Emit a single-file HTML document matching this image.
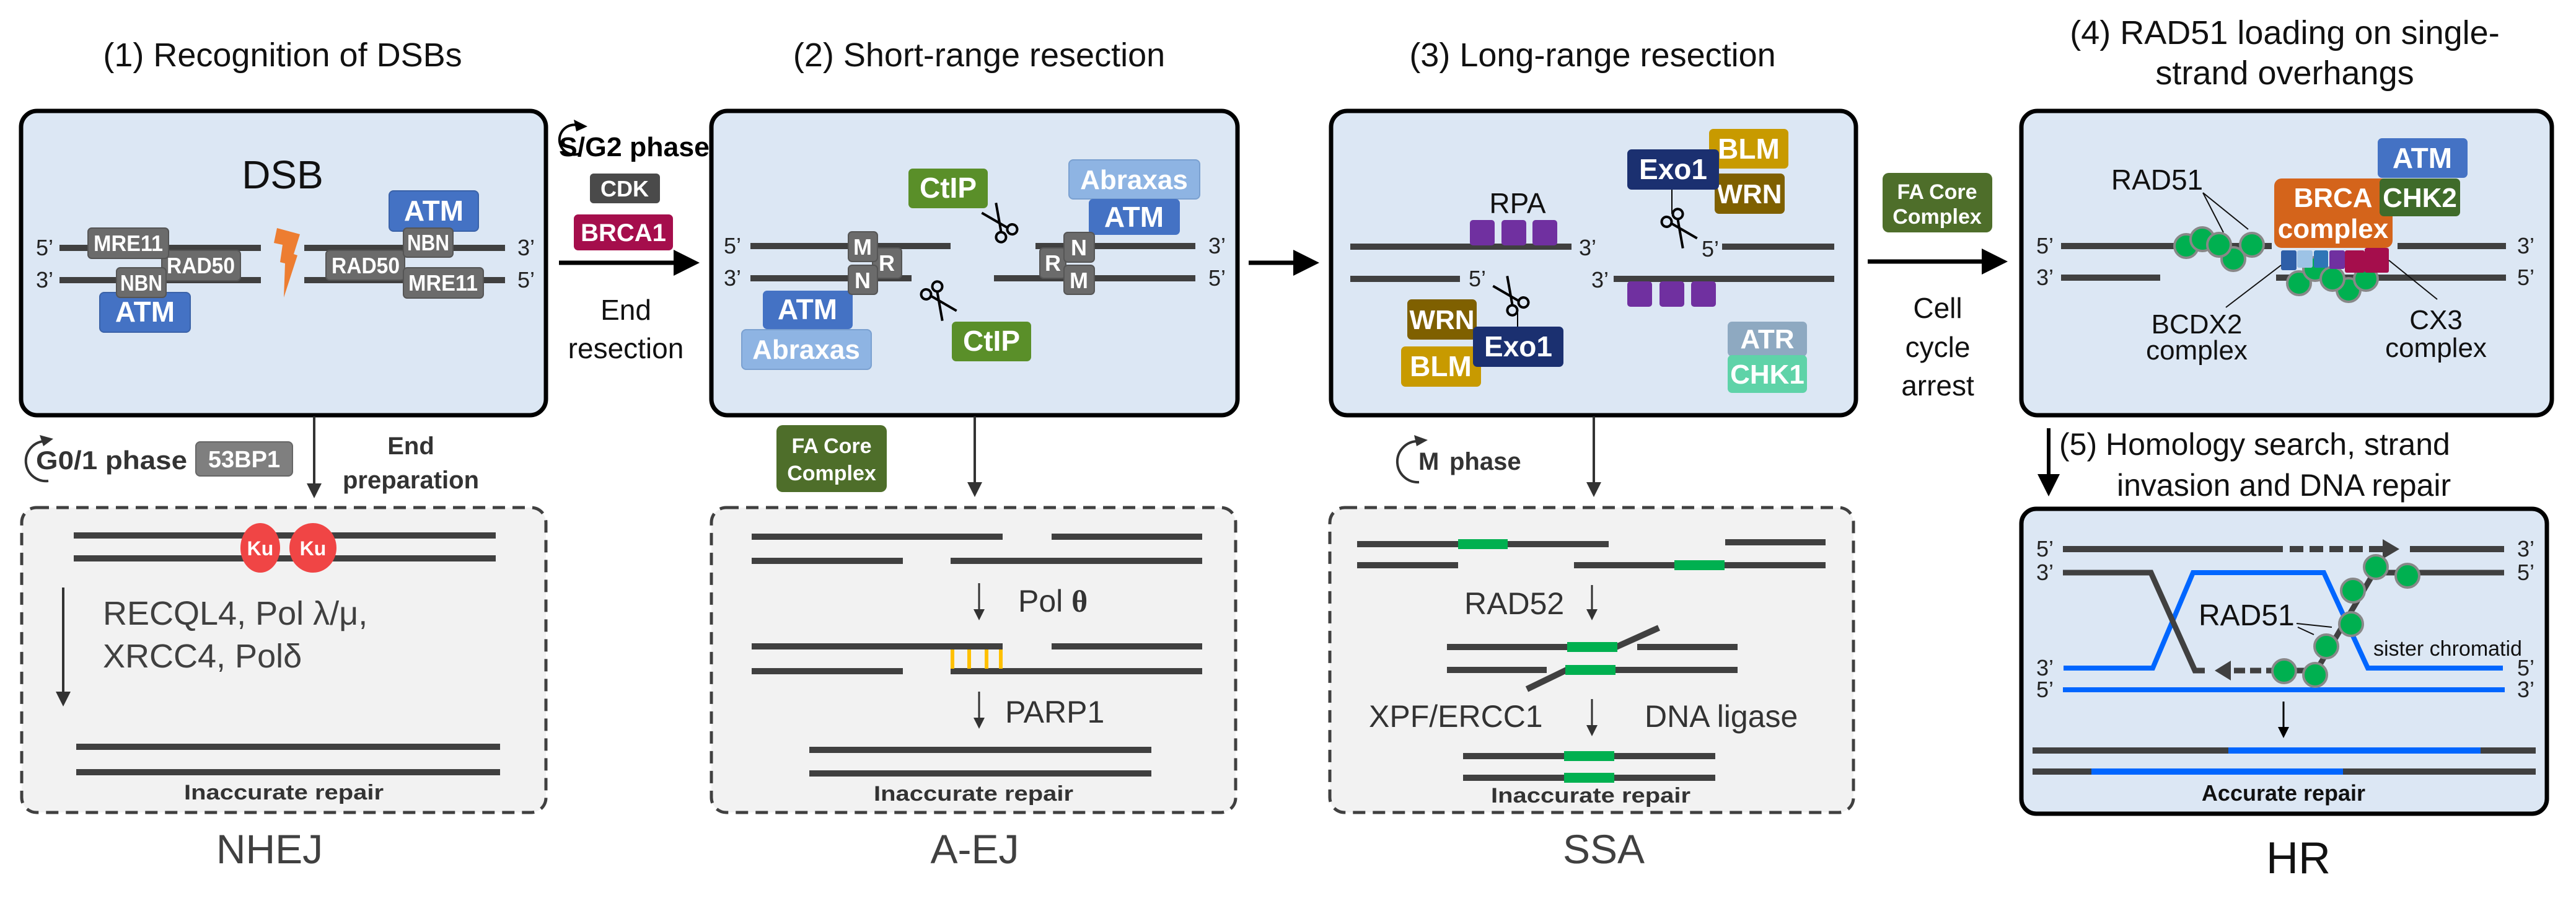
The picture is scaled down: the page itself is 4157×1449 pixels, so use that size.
<!DOCTYPE html>
<html><head><meta charset="utf-8"><style>
html,body{margin:0;padding:0;background:#fff;}
svg{display:block;}
text{font-family:"Liberation Sans",sans-serif;}
.t{font-size:54px;fill:#111;}
.b{font-family:"Liberation Sans Narrow","Liberation Sans",sans-serif;font-weight:bold;fill:#fff;text-anchor:middle;}
.p{font-size:36px;fill:#222;}
.dna{stroke:#404040;stroke-width:10;}
</style></head><body>
<svg width="4157" height="1449" viewBox="0 0 4157 1449" xmlns="http://www.w3.org/2000/svg">
<defs>
<marker id="ah" markerWidth="6" markerHeight="6" refX="5" refY="3" orient="auto" markerUnits="strokeWidth"><path d="M0,0 L6,3 L0,6 z" fill="#000"/></marker>
<marker id="ahg" markerWidth="6" markerHeight="6" refX="5" refY="3" orient="auto" markerUnits="strokeWidth"><path d="M0,0 L6,3 L0,6 z" fill="#333"/></marker>
<g id="sc" fill="none" stroke="#000" stroke-width="4">
<circle cx="-11" cy="20" r="8"/><circle cx="11" cy="20" r="8"/>
<line x1="-6" y1="13" x2="14" y2="-30"/><line x1="6" y1="13" x2="-14" y2="-30"/>
</g>
</defs>

<text class="t" x="456" y="107" text-anchor="middle">(1) Recognition of DSBs</text>
<text class="t" x="1580" y="107" text-anchor="middle">(2) Short-range resection</text>
<text class="t" x="2570" y="107" text-anchor="middle">(3) Long-range resection</text>
<text class="t" x="3687" y="71" text-anchor="middle">(4) RAD51 loading on single-</text>
<text class="t" x="3687" y="136" text-anchor="middle">strand overhangs</text>

<rect x="34" y="179" width="847" height="491" rx="26" fill="#dce7f4" stroke="#000" stroke-width="7"/>
<rect x="1148" y="179" width="849" height="491" rx="26" fill="#dce7f4" stroke="#000" stroke-width="7"/>
<rect x="2148" y="179" width="847" height="491" rx="26" fill="#dce7f4" stroke="#000" stroke-width="7"/>
<rect x="3262" y="179" width="856" height="491" rx="26" fill="#dce7f4" stroke="#000" stroke-width="7"/>

<!-- Panel 1 -->
<text x="456" y="304" font-size="64" text-anchor="middle" fill="#111">DSB</text>
<line class="dna" x1="96" y1="400" x2="421" y2="400"/><line class="dna" x1="96" y1="452" x2="421" y2="452"/>
<line class="dna" x1="491" y1="400" x2="815" y2="400"/><line class="dna" x1="491" y1="452" x2="815" y2="452"/>
<text class="p" x="58" y="412">5’</text><text class="p" x="58" y="464">3’</text>
<text class="p" x="835" y="412">3’</text><text class="p" x="835" y="464">5’</text>
<polygon points="447,368 484,378 474,410 480,412 458,480 460,425 452,423 456,395 442,392" fill="#ed7d31"/>
<rect x="261" y="404" width="127" height="49" rx="6" fill="#6b6b6b" stroke="#555" stroke-width="2"/><text class="b" x="324" y="441" font-size="36" textLength="110" lengthAdjust="spacingAndGlyphs">RAD50</text>
<rect x="142" y="368" width="130" height="49" rx="6" fill="#6b6b6b" stroke="#555" stroke-width="2"/><text class="b" x="207" y="405" font-size="36" textLength="112" lengthAdjust="spacingAndGlyphs">MRE11</text>
<rect x="161" y="472" width="146" height="64" rx="7" fill="#4472c4" stroke="#3a62a8" stroke-width="2"/><text class="b" x="234" y="519" font-size="46">ATM</text>
<rect x="188" y="432" width="80" height="48" rx="6" fill="#6b6b6b" stroke="#555" stroke-width="2"/><text class="b" x="228" y="469" font-size="36" textLength="68" lengthAdjust="spacingAndGlyphs">NBN</text>
<rect x="628" y="308" width="144" height="65" rx="7" fill="#4472c4" stroke="#3a62a8" stroke-width="2"/><text class="b" x="700" y="356" font-size="46">ATM</text>
<rect x="526" y="404" width="127" height="48" rx="6" fill="#6b6b6b" stroke="#555" stroke-width="2"/><text class="b" x="590" y="441" font-size="36" textLength="110" lengthAdjust="spacingAndGlyphs">RAD50</text>
<rect x="651" y="368" width="80" height="47" rx="6" fill="#6b6b6b" stroke="#555" stroke-width="2"/><text class="b" x="691" y="404" font-size="36" textLength="68" lengthAdjust="spacingAndGlyphs">NBN</text>
<rect x="651" y="432" width="129" height="49" rx="6" fill="#6b6b6b" stroke="#555" stroke-width="2"/><text class="b" x="715" y="469" font-size="36" textLength="112" lengthAdjust="spacingAndGlyphs">MRE11</text>

<path d="M935,248 A24,24 0 1 1 932,202" fill="none" stroke="#000" stroke-width="4"/>
<polygon points="926,193 948,204 930,212" fill="#000"/>
<text x="902" y="252" font-size="44" font-weight="bold" fill="#000" textLength="243" lengthAdjust="spacingAndGlyphs">S/G2 phase</text>
<rect x="952" y="280" width="113" height="48" rx="6" fill="#4a4a4a"/><text class="b" x="1008" y="317" font-size="36">CDK</text>
<rect x="926" y="346" width="160" height="58" rx="7" fill="#a50e4c"/><text class="b" x="1006" y="389" font-size="40">BRCA1</text>
<line x1="902" y1="424" x2="1122" y2="424" stroke="#000" stroke-width="7" marker-end="url(#ah)"/>
<text x="1010" y="516" font-size="46" text-anchor="middle" fill="#111">End</text>
<text x="1010" y="578" font-size="46" text-anchor="middle" fill="#111">resection</text>

<!-- Panel 2 -->
<line class="dna" x1="1211" y1="397" x2="1534" y2="397"/><line class="dna" x1="1211" y1="449" x2="1471" y2="449"/>
<line class="dna" x1="1671" y1="397" x2="1929" y2="397"/><line class="dna" x1="1604" y1="449" x2="1929" y2="449"/>
<text class="p" x="1168" y="409">5’</text><text class="p" x="1168" y="461">3’</text>
<text class="p" x="1950" y="409">3’</text><text class="p" x="1950" y="461">5’</text>
<rect x="1408" y="400" width="47" height="49" rx="6" fill="#6b6b6b" stroke="#555" stroke-width="2"/><text class="b" x="1431" y="437" font-size="36">R</text>
<rect x="1369" y="374" width="47" height="48" rx="6" fill="#6b6b6b" stroke="#555" stroke-width="2"/><text class="b" x="1392" y="411" font-size="36">M</text>
<rect x="1231" y="469" width="145" height="62" rx="7" fill="#4472c4"/><text class="b" x="1303" y="515" font-size="46">ATM</text>
<rect x="1369" y="428" width="47" height="47" rx="6" fill="#6b6b6b" stroke="#555" stroke-width="2"/><text class="b" x="1392" y="465" font-size="36">N</text>
<rect x="1197" y="532" width="209" height="64" rx="7" fill="#8eb4e3" stroke="#7aa0d0" stroke-width="2"/><text class="b" x="1301" y="579" font-size="44">Abraxas</text>
<rect x="1466" y="272" width="128" height="64" rx="7" fill="#5a8f29"/><text class="b" x="1530" y="319" font-size="46">CtIP</text>
<rect x="1536" y="519" width="128" height="64" rx="7" fill="#5a8f29"/><text class="b" x="1600" y="566" font-size="46">CtIP</text>
<use href="#sc" transform="translate(1613,360) rotate(-35)"/>
<use href="#sc" transform="translate(1515,485) rotate(145)"/>
<rect x="1725" y="258" width="211" height="63" rx="7" fill="#8eb4e3" stroke="#7aa0d0" stroke-width="2"/><text class="b" x="1830" y="305" font-size="44">Abraxas</text>
<rect x="1757" y="321" width="147" height="58" rx="7" fill="#4472c4"/><text class="b" x="1830" y="366" font-size="46">ATM</text>
<rect x="1678" y="400" width="42" height="49" rx="6" fill="#6b6b6b" stroke="#555" stroke-width="2"/><text class="b" x="1699" y="437" font-size="36">R</text>
<rect x="1717" y="375" width="49" height="48" rx="6" fill="#6b6b6b" stroke="#555" stroke-width="2"/><text class="b" x="1741" y="412" font-size="36">N</text>
<rect x="1717" y="428" width="49" height="47" rx="6" fill="#6b6b6b" stroke="#555" stroke-width="2"/><text class="b" x="1741" y="465" font-size="36">M</text>
<line x1="2015" y1="424" x2="2122" y2="424" stroke="#000" stroke-width="7" marker-end="url(#ah)"/>

<!-- Panel 3 -->
<text x="2449" y="344" font-size="46" text-anchor="middle" fill="#111">RPA</text>
<line class="dna" x1="2179" y1="398" x2="2536" y2="398"/><line class="dna" x1="2779" y1="398" x2="2960" y2="398"/>
<line class="dna" x1="2179" y1="450" x2="2356" y2="450"/><line class="dna" x1="2604" y1="450" x2="2960" y2="450"/>
<text class="p" x="2548" y="412">3’</text><text class="p" x="2746" y="414">5’</text>
<text class="p" x="2370" y="462">5’</text><text class="p" x="2568" y="464">3’</text>
<rect x="2372" y="355" width="40" height="41" rx="5" fill="#7030a0"/><rect x="2423" y="355" width="40" height="41" rx="5" fill="#7030a0"/><rect x="2473" y="355" width="40" height="41" rx="5" fill="#7030a0"/>
<rect x="2626" y="454" width="40" height="41" rx="5" fill="#7030a0"/><rect x="2678" y="454" width="40" height="41" rx="5" fill="#7030a0"/><rect x="2729" y="454" width="40" height="41" rx="5" fill="#7030a0"/>
<rect x="2758" y="208" width="128" height="64" rx="7" fill="#c89a00"/><text class="b" x="2822" y="256" font-size="46">BLM</text>
<rect x="2767" y="280" width="113" height="65" rx="7" fill="#7f6000"/><text class="b" x="2823" y="328" font-size="44">WRN</text>
<rect x="2626" y="241" width="148" height="65" rx="7" fill="#1b3070"/><text class="b" x="2700" y="289" font-size="46">Exo1</text>
<line x1="2698" y1="306" x2="2698" y2="345" stroke="#000" stroke-width="2"/>
<use href="#sc" transform="translate(2710,368) rotate(145)"/>
<rect x="2271" y="483" width="112" height="65" rx="7" fill="#7f6000"/><text class="b" x="2327" y="531" font-size="44">WRN</text>
<rect x="2261" y="559" width="129" height="65" rx="7" fill="#c89a00"/><text class="b" x="2325" y="607" font-size="46">BLM</text>
<rect x="2377" y="527" width="146" height="65" rx="7" fill="#1b3070"/><text class="b" x="2450" y="575" font-size="46">Exo1</text>
<line x1="2449" y1="527" x2="2449" y2="500" stroke="#000" stroke-width="2"/>
<use href="#sc" transform="translate(2438,478) rotate(-35)"/>
<rect x="2788" y="519" width="128" height="56" rx="7" fill="#8ea9c1"/><text class="b" x="2852" y="562" font-size="44">ATR</text>
<rect x="2788" y="573" width="128" height="61" rx="7" fill="#5fd3a8"/><text class="b" x="2852" y="619" font-size="44">CHK1</text>

<rect x="3038" y="279" width="177" height="96" rx="10" fill="#4e6e2a"/>
<text class="b" x="3126" y="321" font-size="34">FA Core</text><text class="b" x="3126" y="361" font-size="34">Complex</text>
<line x1="3014" y1="422" x2="3233" y2="422" stroke="#000" stroke-width="7" marker-end="url(#ah)"/>
<text x="3127" y="513" font-size="46" text-anchor="middle" fill="#111">Cell</text>
<text x="3127" y="576" font-size="46" text-anchor="middle" fill="#111">cycle</text>
<text x="3127" y="638" font-size="46" text-anchor="middle" fill="#111">arrest</text>

<!-- Panel 4 -->
<line class="dna" x1="3326" y1="397" x2="3666" y2="397"/><line class="dna" x1="3869" y1="397" x2="4044" y2="397"/>
<line class="dna" x1="3326" y1="448" x2="3486" y2="448"/><line class="dna" x1="3673" y1="448" x2="4044" y2="448"/>
<text class="p" x="3286" y="409">5’</text><text class="p" x="3286" y="460">3’</text>
<text class="p" x="4062" y="409">3’</text><text class="p" x="4062" y="460">5’</text>
<text x="3481" y="306" font-size="46" text-anchor="middle" fill="#111">RAD51</text>
<line x1="3555" y1="311" x2="3588" y2="375" stroke="#111" stroke-width="2"/><line x1="3555" y1="311" x2="3628" y2="370" stroke="#111" stroke-width="2"/>
<g fill="#00b050" stroke="#888" stroke-width="4">
<circle cx="3528" cy="397" r="19"/><circle cx="3554" cy="386" r="19"/><circle cx="3604" cy="418" r="19"/><circle cx="3581" cy="395" r="19"/><circle cx="3634" cy="395" r="19"/>
</g>
<rect x="3670" y="288" width="191" height="112" rx="12" fill="#d4641b"/>
<text class="b" x="3765" y="334" font-size="44">BRCA</text><text class="b" x="3765" y="384" font-size="44">complex</text>
<rect x="3837" y="223" width="145" height="64" rx="7" fill="#4472c4"/><text class="b" x="3909" y="271" font-size="46">ATM</text>
<rect x="3840" y="288" width="130" height="61" rx="7" fill="#3f6b2a"/><text class="b" x="3905" y="334" font-size="44">CHK2</text>
<g fill="#00b050" stroke="#888" stroke-width="4">
<circle cx="3710" cy="457" r="19"/><circle cx="3736" cy="434" r="19"/><circle cx="3790" cy="468" r="19"/><circle cx="3764" cy="450" r="19"/><circle cx="3818" cy="450" r="19"/>
</g>
<rect x="3681" y="404" width="25" height="32" rx="3" fill="#2e5fa8"/>
<rect x="3707" y="404" width="25" height="28" rx="3" fill="#9dc3e6"/>
<rect x="3734" y="404" width="23" height="28" rx="3" fill="#2e75b6"/>
<rect x="3759" y="404" width="25" height="30" rx="3" fill="#7030a0"/>
<rect x="3784" y="404" width="32" height="36" rx="3" fill="#a50e4c"/>
<rect x="3816" y="400" width="39" height="40" rx="3" fill="#a50e4c"/>
<line x1="3592" y1="496" x2="3681" y2="428" stroke="#111" stroke-width="2"/>
<line x1="3933" y1="483" x2="3855" y2="420" stroke="#111" stroke-width="2"/>
<text x="3545" y="538" font-size="44" text-anchor="middle" fill="#111">BCDX2</text>
<text x="3545" y="580" font-size="44" text-anchor="middle" fill="#111">complex</text>
<text x="3931" y="531" font-size="44" text-anchor="middle" fill="#111">CX3</text>
<text x="3931" y="576" font-size="44" text-anchor="middle" fill="#111">complex</text>

<!-- NHEJ -->
<path d="M78,776 A26,26 0 1 1 70,712" fill="none" stroke="#333" stroke-width="4"/>
<polygon points="64,702 86,708 70,720" fill="#333"/>
<text x="58" y="757" font-size="42" font-weight="bold" fill="#333" textLength="244" lengthAdjust="spacingAndGlyphs">G0/1 phase</text>
<rect x="316" y="713" width="156" height="55" rx="7" fill="#7f7f7f" stroke="#666" stroke-width="2"/><text class="b" x="394" y="754" font-size="38">53BP1</text>
<line x1="507" y1="672" x2="507" y2="800" stroke="#333" stroke-width="4" marker-end="url(#ahg)"/>
<text x="663" y="733" font-size="40" font-weight="bold" text-anchor="middle" fill="#333">End</text>
<text x="663" y="788" font-size="40" font-weight="bold" text-anchor="middle" fill="#333">preparation</text>
<rect x="35" y="819" width="846" height="492" rx="24" fill="#f2f2f2" stroke="#404040" stroke-width="5" stroke-dasharray="20 12"/>
<line class="dna" x1="119" y1="864" x2="800" y2="864"/><line class="dna" x1="119" y1="901" x2="800" y2="901"/>
<ellipse cx="420" cy="884" rx="32" ry="40" fill="#f04545"/><ellipse cx="505" cy="884" rx="38" ry="40" fill="#f04545"/>
<text class="b" x="420" y="896" font-size="32">Ku</text><text class="b" x="505" y="896" font-size="32">Ku</text>
<line x1="102" y1="948" x2="102" y2="1136" stroke="#333" stroke-width="4" marker-end="url(#ahg)"/>
<text x="166" y="1008" font-size="54" fill="#404040">RECQL4, Pol λ/μ,</text>
<text x="166" y="1077" font-size="54" fill="#404040">XRCC4, Polδ</text>
<line class="dna" x1="123" y1="1205" x2="807" y2="1205"/><line class="dna" x1="123" y1="1246" x2="807" y2="1246"/>
<text x="458" y="1290" font-size="34" font-weight="bold" text-anchor="middle" fill="#333" textLength="322" lengthAdjust="spacingAndGlyphs">Inaccurate repair</text>
<text x="435" y="1393" font-size="66" text-anchor="middle" fill="#404040">NHEJ</text>

<!-- A-EJ -->
<rect x="1253" y="686" width="178" height="108" rx="10" fill="#4e6e2a"/>
<text class="b" x="1342" y="731" font-size="34">FA Core</text><text class="b" x="1342" y="775" font-size="34">Complex</text>
<line x1="1573" y1="672" x2="1573" y2="798" stroke="#333" stroke-width="4" marker-end="url(#ahg)"/>
<rect x="1148" y="819" width="846" height="492" rx="24" fill="#f2f2f2" stroke="#404040" stroke-width="5" stroke-dasharray="20 12"/>
<line class="dna" x1="1213" y1="866" x2="1618" y2="866"/><line class="dna" x1="1697" y1="866" x2="1940" y2="866"/>
<line class="dna" x1="1213" y1="905" x2="1457" y2="905"/><line class="dna" x1="1534" y1="905" x2="1940" y2="905"/>
<line x1="1580" y1="941" x2="1580" y2="998" stroke="#333" stroke-width="3" marker-end="url(#ahg)"/>
<text x="1643" y="987" font-size="50" fill="#333">Pol <tspan font-family="Liberation Serif" font-weight="bold">θ</tspan></text>
<line class="dna" x1="1213" y1="1043" x2="1618" y2="1043"/><line class="dna" x1="1697" y1="1043" x2="1940" y2="1043"/>
<line class="dna" x1="1213" y1="1083" x2="1457" y2="1083"/><line class="dna" x1="1534" y1="1083" x2="1940" y2="1083"/>
<g stroke="#ffc000" stroke-width="6"><line x1="1537" y1="1048" x2="1537" y2="1079"/><line x1="1564" y1="1048" x2="1564" y2="1079"/><line x1="1592" y1="1048" x2="1592" y2="1079"/><line x1="1615" y1="1048" x2="1615" y2="1079"/></g>
<line x1="1580" y1="1116" x2="1580" y2="1173" stroke="#333" stroke-width="3" marker-end="url(#ahg)"/>
<text x="1622" y="1166" font-size="50" fill="#333">PARP1</text>
<line class="dna" x1="1306" y1="1210" x2="1858" y2="1210"/><line class="dna" x1="1306" y1="1248" x2="1858" y2="1248"/>
<text x="1571" y="1292" font-size="34" font-weight="bold" text-anchor="middle" fill="#333" textLength="322" lengthAdjust="spacingAndGlyphs">Inaccurate repair</text>
<text x="1573" y="1393" font-size="66" text-anchor="middle" fill="#404040">A-EJ</text>

<!-- SSA -->
<path d="M2290,778 A25,25 0 1 1 2286,712" fill="none" stroke="#333" stroke-width="4"/>
<polygon points="2282,702 2304,710 2286,720" fill="#333"/>
<text x="2289" y="758" font-size="40" font-weight="bold" fill="#333">M</text>
<text x="2339" y="758" font-size="40" font-weight="bold" fill="#333">phase</text>
<line x1="2572" y1="672" x2="2572" y2="798" stroke="#333" stroke-width="4" marker-end="url(#ahg)"/>
<rect x="2146" y="819" width="845" height="492" rx="24" fill="#f2f2f2" stroke="#404040" stroke-width="5" stroke-dasharray="20 12"/>
<line class="dna" x1="2190" y1="878" x2="2596" y2="878"/><line x1="2353" y1="878" x2="2433" y2="878" stroke="#00b050" stroke-width="16"/>
<line class="dna" x1="2784" y1="875" x2="2946" y2="875"/>
<line class="dna" x1="2190" y1="912" x2="2353" y2="912"/><line class="dna" x1="2540" y1="912" x2="2946" y2="912"/><line x1="2702" y1="912" x2="2783" y2="912" stroke="#00b050" stroke-width="16"/>
<text x="2363" y="991" font-size="50" fill="#333">RAD52</text>
<line x1="2569" y1="944" x2="2569" y2="998" stroke="#333" stroke-width="3" marker-end="url(#ahg)"/>
<line class="dna" x1="2335" y1="1044" x2="2610" y2="1044"/><line class="dna" x1="2608" y1="1044" x2="2677" y2="1013"/><line class="dna" x1="2642" y1="1044" x2="2804" y2="1044"/>
<line x1="2529" y1="1044" x2="2610" y2="1044" stroke="#00b050" stroke-width="16"/>
<line class="dna" x1="2335" y1="1081" x2="2496" y2="1081"/><line class="dna" x1="2607" y1="1081" x2="2804" y2="1081"/><line class="dna" x1="2528" y1="1081" x2="2464" y2="1112"/>
<line x1="2526" y1="1081" x2="2607" y2="1081" stroke="#00b050" stroke-width="16"/>
<text x="2209" y="1173" font-size="50" fill="#333">XPF/ERCC1</text>
<line x1="2569" y1="1128" x2="2569" y2="1185" stroke="#333" stroke-width="3" marker-end="url(#ahg)"/>
<text x="2654" y="1173" font-size="50" fill="#333">DNA ligase</text>
<line class="dna" x1="2361" y1="1220" x2="2768" y2="1220"/><line class="dna" x1="2361" y1="1255" x2="2768" y2="1255"/>
<line x1="2524" y1="1220" x2="2605" y2="1220" stroke="#00b050" stroke-width="16"/><line x1="2524" y1="1255" x2="2605" y2="1255" stroke="#00b050" stroke-width="16"/>
<text x="2567" y="1295" font-size="34" font-weight="bold" text-anchor="middle" fill="#333" textLength="322" lengthAdjust="spacingAndGlyphs">Inaccurate repair</text>
<text x="2588" y="1393" font-size="66" text-anchor="middle" fill="#404040">SSA</text>

<!-- HR -->
<line x1="3306" y1="691" x2="3306" y2="795" stroke="#000" stroke-width="6" marker-end="url(#ah)"/>
<text x="3323" y="734" font-size="50" fill="#111">(5) Homology search, strand</text>
<text x="3416" y="800" font-size="50" fill="#111">invasion and DNA repair</text>
<rect x="3262" y="821" width="848" height="492" rx="24" fill="#dce7f4" stroke="#000" stroke-width="7"/>
<line class="dna" x1="3329" y1="886" x2="3684" y2="886"/>
<line x1="3695" y1="886" x2="3850" y2="886" stroke="#404040" stroke-width="10" stroke-dasharray="22 10"/>
<polygon points="3845,870 3872,886 3845,902" fill="#404040"/>
<line class="dna" x1="3889" y1="886" x2="4041" y2="886"/>
<polyline points="3330,1078 3474,1078 3539,924 3750,924 3821,1078 4039,1078" fill="none" stroke="#0066ff" stroke-width="8"/>
<line x1="3329" y1="1113" x2="4042" y2="1113" stroke="#0066ff" stroke-width="8"/>
<polyline points="3329,924 3471,924 3542,1082 3558,1082" fill="none" stroke="#404040" stroke-width="9"/>
<polygon points="3574,1082 3600,1066 3600,1098" fill="#404040"/>
<line x1="3605" y1="1082" x2="3670" y2="1082" stroke="#404040" stroke-width="9" stroke-dasharray="18 8"/>
<polyline points="3670,1082 3738,1082 3831,924 4041,924" fill="none" stroke="#404040" stroke-width="9"/>
<g fill="#00b050" stroke="#888" stroke-width="4">
<circle cx="3834" cy="915" r="19"/><circle cx="3885" cy="929" r="19"/><circle cx="3797" cy="953" r="19"/><circle cx="3794" cy="1007" r="19"/><circle cx="3754" cy="1043" r="19"/><circle cx="3686" cy="1083" r="19"/><circle cx="3736" cy="1089" r="19"/>
</g>
<text x="3548" y="1009" font-size="48" fill="#111">RAD51</text>
<line x1="3706" y1="1006" x2="3763" y2="1012" stroke="#111" stroke-width="2"/><line x1="3708" y1="1012" x2="3734" y2="1024" stroke="#111" stroke-width="2"/>
<text x="3830" y="1058" font-size="34" fill="#111">sister chromatid</text>
<text class="p" x="3286" y="898">5’</text><text class="p" x="3286" y="936">3’</text><text class="p" x="3286" y="1090">3’</text><text class="p" x="3286" y="1125">5’</text>
<text class="p" x="4062" y="898">3’</text><text class="p" x="4062" y="936">5’</text><text class="p" x="4062" y="1090">5’</text><text class="p" x="4062" y="1125">3’</text>
<line x1="3685" y1="1132" x2="3685" y2="1188" stroke="#000" stroke-width="3" marker-end="url(#ah)"/>
<line class="dna" x1="3280" y1="1211" x2="4092" y2="1211"/><line x1="3596" y1="1211" x2="4003" y2="1211" stroke="#0066ff" stroke-width="10"/>
<line class="dna" x1="3280" y1="1245" x2="4092" y2="1245"/><line x1="3375" y1="1245" x2="3781" y2="1245" stroke="#0066ff" stroke-width="10"/>
<text x="3685" y="1292" font-size="36" font-weight="bold" text-anchor="middle" fill="#111">Accurate repair</text>
<text x="3709" y="1409" font-size="72" text-anchor="middle" fill="#111">HR</text>
</svg>
</body></html>
